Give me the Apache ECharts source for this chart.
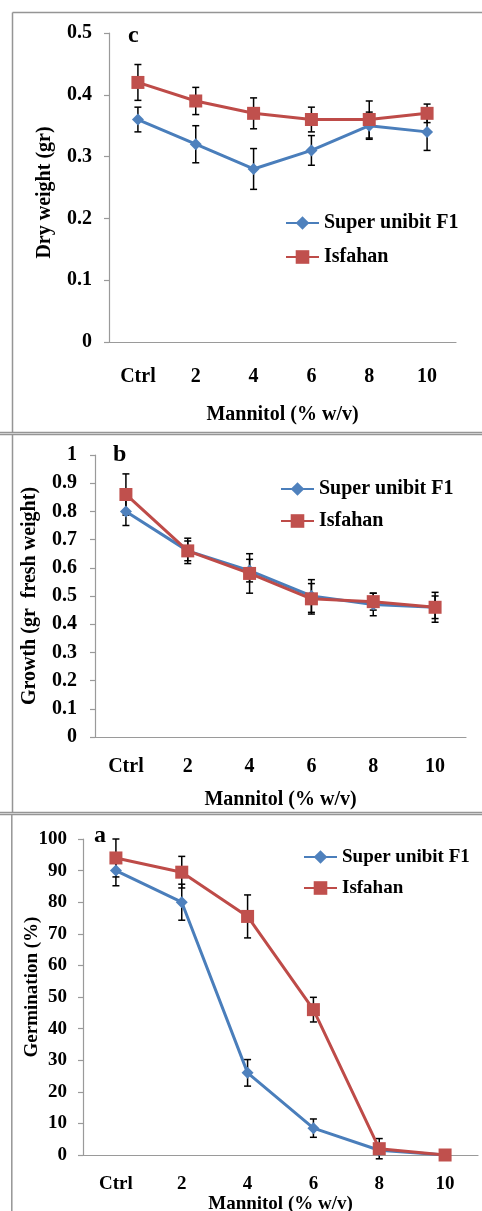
<!DOCTYPE html>
<html><head><meta charset="utf-8">
<script src="https://cdn.jsdelivr.net/npm/echarts@6/dist/echarts.min.js"></script>
<style>html,body{margin:0;padding:0;background:#fff}#c{width:482px;height:1211px}</style>
</head><body><div id="c"></div>
<script>
const categories = ['Ctrl', '2', '4', '6', '8', '10'];
const seriesNames = ['Super unibit F1', 'Isfahan'];

// Panel c: dry weight (gr)
const dryWeightSuper = [0.36, 0.32, 0.28, 0.31, 0.35, 0.34];
const dryWeightSuperErr = [0.02, 0.03, 0.033, 0.024, 0.022, 0.03];
const dryWeightIsfahan = [0.42, 0.39, 0.37, 0.36, 0.36, 0.37];
const dryWeightIsfahanErr = [0.029, 0.022, 0.025, 0.02, 0.03, 0.015];

// Panel b: growth (gr fresh weight)
const growthSuper = [0.80, 0.66, 0.59, 0.50, 0.47, 0.46];
const growthSuperErr = [0.05, 0.045, 0.04, 0.058, 0.04, 0.04];
const growthIsfahan = [0.86, 0.66, 0.58, 0.49, 0.48, 0.46];
const growthIsfahanErr = [0.073, 0.035, 0.07, 0.054, 0.03, 0.053];

// Panel a: germination (%)
const germSuper = [90, 80, 26, 8.5, 1.5, 0];
const germSuperErr = [4.8, 5.7, 4.2, 2.9, 1, 0];
const germIsfahan = [94, 89.5, 75.5, 46, 2, 0];
const germIsfahanErr = [6, 5, 6.8, 3.9, 3.2, 0];

const FONT = "'Liberation Serif', 'Times New Roman', serif";
const BLUE = '#4A7EBB', RED = '#BE4B48', AXIS = '#9a9a9a', FRAME = '#959595';

function errData(vals, errs) { return vals.map((v, i) => [i, v - errs[i], v + errs[i]]); }
function errRender(params, api) {
  const x = api.value(0), lo = api.value(1), hi = api.value(2);
  if (!(hi - lo > 0)) return null;
  const a = api.coord([x, hi]), b = api.coord([x, lo]);
  const w = 3.5, st = { stroke: '#000', lineWidth: 1.5 };
  return { type: 'group', children: [
    { type: 'line', shape: { x1: a[0], y1: a[1], x2: b[0], y2: b[1] }, style: st },
    { type: 'line', shape: { x1: a[0] - w, y1: a[1], x2: a[0] + w, y2: a[1] }, style: st },
    { type: 'line', shape: { x1: b[0] - w, y1: b[1], x2: b[0] + w, y2: b[1] }, style: st }
  ]};
}

const panels = [
  { grid: { left: 109, top: 33, width: 347, height: 309 }, min: 0, max: 0.5, interval: 0.1,
    yName: 'Dry weight (gr)', yGap: 54, yPad: [0, 10, 0, 0], fs: 20, lblMargin: 25, yMargin: 17, xNameGap: 63,
    legend: { left: 280, top: 208, itemGap: 14 }, letter: { t: 'c', x: 128, y: 38 },
    s: [dryWeightSuper, dryWeightSuperErr], i: [dryWeightIsfahan, dryWeightIsfahanErr] },
  { grid: { left: 95, top: 455, width: 371, height: 282 }, min: 0, max: 1, interval: 0.1,
    yName: 'Growth (gr  fresh weight)', yGap: 55, yPad: [0, 0, 0, 0], fs: 20, lblMargin: 20, yMargin: 18, xNameGap: 53,
    legend: { left: 275, top: 474, itemGap: 12 }, letter: { t: 'b', x: 113, y: 457 },
    s: [growthSuper, growthSuperErr], i: [growthIsfahan, growthIsfahanErr] },
  { grid: { left: 83, top: 839, width: 395, height: 316 }, min: 0, max: 100, interval: 10,
    yName: 'Germination (%)', yGap: 41, yPad: [0, 0, 0, 20], fs: 19, lblMargin: 20, yMargin: 16, xNameGap: 40,
    legend: { left: 298, top: 842, itemGap: 11 }, letter: { t: 'a', x: 94, y: 838 },
    s: [germSuper, germSuperErr], i: [germIsfahan, germIsfahanErr] }
];

const option = { animation: false, backgroundColor: '#fff', grid: [], xAxis: [], yAxis: [], legend: [], series: [], graphic: [] };

panels.forEach((p, k) => {
  const txt = { fontFamily: FONT, fontWeight: 'bold', color: '#000', fontSize: p.fs };
  option.grid.push(Object.assign({ outerBoundsMode: 'none', containLabel: false }, p.grid));
  option.xAxis.push({
    type: 'category', gridIndex: k, data: categories, boundaryGap: true,
    axisLine: { lineStyle: { color: AXIS, width: 1.2 } },
    axisTick: { alignWithLabel: true, length: 5, lineStyle: { color: AXIS, width: 1.2 } },
    axisLabel: Object.assign({ margin: p.lblMargin }, txt),
    splitLine: { show: false },
    name: 'Mannitol (% w/v)', nameLocation: 'middle', nameGap: p.xNameGap, nameTextStyle: txt,
    nameMoveOverlap: false
  });
  option.yAxis.push({
    type: 'value', gridIndex: k, min: p.min, max: p.max, interval: p.interval,
    axisLine: { show: true, lineStyle: { color: AXIS, width: 1.2 } },
    axisTick: { show: true, length: 5, lineStyle: { color: AXIS, width: 1.2 } },
    axisLabel: Object.assign({ margin: p.yMargin }, txt),
    splitLine: { show: false },
    name: p.yName, nameLocation: 'middle', nameGap: p.yGap, nameMoveOverlap: false,
    nameTextStyle: Object.assign({ padding: p.yPad }, txt)
  });
  option.legend.push({
    left: p.legend.left, top: p.legend.top, orient: 'vertical', itemGap: p.legend.itemGap,
    itemWidth: 33, itemHeight: 17, data: seriesNames,
    textStyle: Object.assign({ lineHeight: 20 }, txt)
  });
  option.series.push(
    { type: 'custom', name: 'errS' + k, xAxisIndex: k, yAxisIndex: k, renderItem: errRender,
      data: errData(p.s[0], p.s[1]), encode: { x: 0, y: [1, 2] }, z: 1, silent: true },
    { type: 'custom', name: 'errI' + k, xAxisIndex: k, yAxisIndex: k, renderItem: errRender,
      data: errData(p.i[0], p.i[1]), encode: { x: 0, y: [1, 2] }, z: 1, silent: true },
    { type: 'line', name: seriesNames[0], xAxisIndex: k, yAxisIndex: k, data: p.s[0],
      symbol: 'diamond', symbolSize: 12, itemStyle: { color: '#4F81BD' },
      lineStyle: { color: BLUE, width: 3 }, z: 3 },
    { type: 'line', name: seriesNames[1], xAxisIndex: k, yAxisIndex: k, data: p.i[0],
      symbol: 'rect', symbolSize: 13, itemStyle: { color: '#C0504D' },
      lineStyle: { color: RED, width: 3 }, z: 4 }
  );
  option.graphic.push({ type: 'text', left: p.letter.x, top: p.letter.y - 14,
    style: { text: p.letter.t, font: 'bold 24px ' + FONT, fill: '#000' } });
});

// inner half of the crossing x ticks
panels.forEach((p, k) => {
  option.xAxis.push({
    type: 'category', gridIndex: k, data: categories, boundaryGap: true, position: 'bottom',
    axisLine: { show: false }, axisLabel: { show: false }, splitLine: { show: false },
    axisTick: { alignWithLabel: true, inside: true, length: 5, lineStyle: { color: AXIS, width: 1.2 } }
  });
});

// panel frames
const fr = { stroke: FRAME, lineWidth: 1.5 };
[
  [12.5, 12.5, 482, 12.5], [12.5, 12.5, 12.5, 433],
  [0, 432.5, 482, 432.5], [0, 434.5, 482, 434.5], [12.5, 434.5, 12.5, 812.5],
  [0, 812.5, 482, 812.5], [0, 814.5, 482, 814.5], [11.8, 814.5, 11.8, 1211]
].forEach(l => option.graphic.push({ type: 'line', silent: true,
  shape: { x1: l[0], y1: l[1], x2: l[2], y2: l[3] }, style: fr }));

const chart = echarts.init(document.getElementById('c'), null, { renderer: 'canvas' });
chart.setOption(option);
</script></body></html>
